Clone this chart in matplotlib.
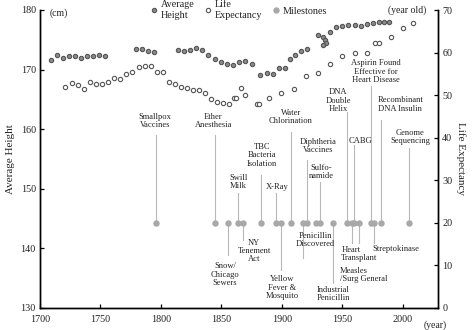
import matplotlib
matplotlib.use("Agg")
import matplotlib.pyplot as plt
from matplotlib.lines import Line2D

# ---------------- data ----------------
height_years = [1709, 1714, 1719, 1724, 1729, 1734, 1739, 1744, 1749, 1754,
                1779, 1784, 1789, 1794,
                1814, 1819, 1824, 1829, 1834, 1839, 1844.5, 1849.5, 1854.5, 1859.5,
                1864.5, 1869.5, 1875, 1882, 1887.5, 1892.5, 1897.5, 1902.5, 1907,
                1910.5, 1915.5, 1920.5, 1930, 1934.3, 1936, 1936.6, 1933.8, 1940,
                1945, 1950, 1955, 1960, 1965, 1970, 1975, 1980, 1984.5, 1988.5]
height_cm = [171.6, 172.4, 172.0, 172.3, 172.3, 171.9, 172.3, 172.2, 172.5, 172.3,
             173.4, 173.4, 173.1, 172.9,
             173.2, 173.1, 173.3, 173.6, 173.3, 172.4, 171.8, 171.3, 171.0, 170.7,
             171.3, 171.4, 170.9, 169.1, 169.5, 169.2, 170.2, 170.2, 171.8,
             172.4, 173.1, 173.4, 175.8, 175.5, 175.0, 174.5, 174.2, 176.3,
             177.2, 177.3, 177.5, 177.4, 177.3, 177.7, 177.9, 178.0, 177.95, 177.95]

life_years = [1721, 1726.5, 1731.5, 1736, 1741.5, 1746.5, 1751.5, 1756, 1761.5, 1766.5,
              1771.5, 1776, 1781.5, 1786.5, 1791.5, 1796.5, 1801.5, 1806.5, 1811.5,
              1816.5, 1821.5, 1826.5, 1831.5, 1836.5, 1841.5, 1846.5, 1851.5, 1856.5,
              1860, 1862, 1866.5, 1869.3, 1879.5, 1881, 1889.7, 1899.3, 1909.8,
              1919.6, 1929.5, 1940, 1950, 1960, 1970, 1976.7, 1980, 1990, 2000, 2008]
life_exp = [52.0, 52.9, 52.3, 51.4, 53.1, 52.5, 52.7, 53.1, 54.1, 53.8,
            55.0, 55.5, 56.5, 56.8, 56.9, 55.5, 55.4, 53.1, 52.5,
            52.0, 51.6, 51.3, 51.3, 50.4, 49.0, 48.4, 48.1, 48.0,
            49.2, 49.4, 51.6, 50.0, 48.0, 48.0, 49.2, 50.5, 51.4,
            54.4, 55.3, 57.2, 59.2, 60.0, 60.0, 62.3, 62.3, 63.7, 65.7, 66.9]

milestone_years = [1796, 1845, 1855, 1864, 1867.5, 1883, 1895, 1899.5, 1907.5, 1917,
                   1921, 1928, 1931.5, 1942, 1953.5, 1958.3, 1959.7, 1964, 1973.8,
                   1976.3, 1981.8, 2005]
milestone_level = 20

milestone_labels = [
    "Smallpox\nVaccines", "Ether\nAnesthesia", "Snow/\nChicago\nSewers", "Swill\nMilk",
    "NY\nTenement\nAct", "TBC\nBacteria\nIsolation", "X-Ray", "Yellow\nFever &\nMosquito",
    "Water\nChlorination", "Penicillin\nDiscovered", "Diphtheria\nVaccines", "",
    "Sulfo-\nnamide", "Industrial\nPenicillin", "DNA\nDouble\nHelix", "Heart\nTransplant",
    "CABG", "Measles\n/Surg General", "Aspirin Found\nEffective for\nHeart Disease",
    "Streptokinase", "Recombinant\nDNA Insulin", "Genome\nSequencing"]

# layout (stem end, label x, label y, alignment) -- in life-expectancy axis units
layout = [
    (40.6, 1795.1, 43.9, 'center'),
    (40.6, 1843.1, 43.9, 'center'),
    (12.4, 1853.0, 7.8, 'center'),
    (26.9, 1863.8, 29.5, 'center'),
    (15.9, 1877.0, 13.3, 'center'),
    (31.2, 1883.4, 35.8, 'center'),
    (26.9, 1896.3, 28.4, 'center'),
    (8.8, 1899.9, 4.7, 'center'),
    (41.4, 1907.4, 44.8, 'center'),
    (11.6, 1927.6, 15.9, 'center'),
    (34.7, 1930.2, 38.1, 'center'),
    (None, 0, 0, 'center'),
    (29.6, 1932.2, 31.9, 'center'),
    (5.8, 1942.3, 3.25, 'center'),
    (46.0, 1946.7, 48.7, 'center'),
    (15.2, 1949.0, 12.6, 'left'),
    (38.2, 1964.7, 39.2, 'center'),
    (15.2, 1948.1, 7.7, 'left'),
    (52.1, 1977.9, 55.5, 'center'),
    (15.2, 1994.5, 13.9, 'center'),
    (44.1, 1997.8, 47.8, 'center'),
    (37.5, 2006.0, 40.1, 'center'),
]

# ---------------- style ----------------
plt.rcParams['font.family'] = ['Liberation Serif', 'DejaVu Serif']
TXT = '#222222'

fig = plt.figure(figsize=(4.74, 3.30), dpi=100)
ax = fig.add_axes([40/474, 1-307.7/330, (438-40)/474, (307.7-10)/330])
ax2 = ax.twinx()

ax.set_xlim(1700, 2029)
ax.set_ylim(130, 180)
ax2.set_ylim(0, 70)
ax.set_xticks([1700, 1750, 1800, 1850, 1900, 1950, 2000])
ax.set_yticks([130, 140, 150, 160, 170, 180])
ax2.set_yticks([0, 10, 20, 30, 40, 50, 60, 70])

for a in (ax, ax2):
    a.spines['top'].set_visible(False)
    for s in a.spines.values():
        s.set_linewidth(1.0)
    a.tick_params(direction='in', length=3, width=0.9, labelsize=7.3, colors='black', labelcolor=TXT)
ax.tick_params(axis='y', pad=3)
ax.tick_params(axis='x', pad=5)
ax2.tick_params(axis='y', pad=3)

# milestones stems + labels
for yr, lab, (stem_end, lx, ly, ha) in zip(milestone_years, milestone_labels, layout):
    if stem_end is not None:
        ax2.plot([yr, yr], [milestone_level, stem_end], color='#b8b8b8', lw=0.8, zorder=1)
    if lab:
        ax2.text(lx, ly, lab, ha=ha, va='center', multialignment=ha, fontsize=6.1,
                 color=TXT, linespacing=1.05, zorder=3)

ax2.plot(milestone_years, [milestone_level]*len(milestone_years), 'o', ms=3.6,
         mfc='#a8a8a8', mec='#a8a8a8', ls='none', zorder=2)

ax.plot(height_years, height_cm, 'o', ms=3.1, mfc='#8a8a8a', mec='#555555', mew=0.8,
        ls='none', zorder=3)
ax2.plot(life_years, life_exp, 'o', ms=3.1, mfc='white', mec='#555555', mew=0.8,
         ls='none', zorder=3)

ax.set_ylabel('Average Height', fontsize=8, color=TXT, labelpad=4)
ax2.set_ylabel('Life Expectancy', fontsize=8, color=TXT, rotation=270, labelpad=10)

ax.text(0.025, 0.99, '(cm)', transform=ax.transAxes, fontsize=7, color=TXT, va='center')
ax2.text(0.97, 1.0, '(year old)', transform=ax.transAxes, fontsize=7, color=TXT,
         va='center', ha='right')
ax.text(0.994, -0.06, '(year)', transform=ax.transAxes, fontsize=7, color=TXT,
        va='center', ha='center')

handles = [
    Line2D([], [], marker='o', ls='none', ms=3.1, mfc='#8a8a8a', mec='#555555', mew=0.8),
    Line2D([], [], marker='o', ls='none', ms=3.1, mfc='white', mec='#555555', mew=0.8),
    Line2D([], [], marker='o', ls='none', ms=3.6, mfc='#a8a8a8', mec='#a8a8a8'),
]
fig.legend(handles, ['Average\nHeight', 'Life\nExpectancy', 'Milestones'], ncol=3,
           loc='center', bbox_to_anchor=(238/474, 1-10/330), frameon=False,
           fontsize=7.3, handletextpad=0.1, columnspacing=0.9, handlelength=1.0,
           labelcolor=TXT, borderpad=0, labelspacing=0.2)

fig.savefig('out.png', dpi=100)
